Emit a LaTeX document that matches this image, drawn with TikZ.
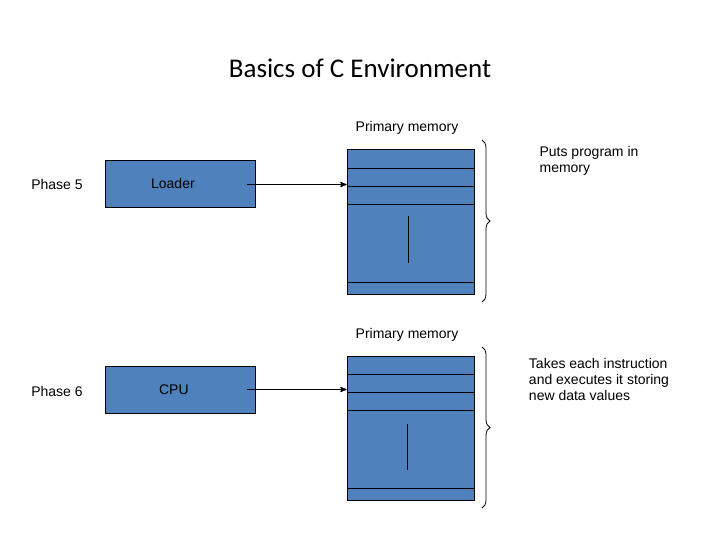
\documentclass[tikz,border=0pt]{standalone}
\usepackage{fontspec}
\setmainfont{Liberation Sans}
\newfontfamily\titlefont{Carlito}
\usetikzlibrary{positioning, arrows, decorations.pathreplacing}
\tikzset{
  box/.style = {draw=black, thick, fill=blue!45!cyan!40!black!0, fill={rgb,255:red,79;green,129;blue,189}, inner sep=0pt},
  lbl/.style = {font=\fontsize{14}{16}\selectfont},
  link/.style = {->, >=stealth', very thick}
}
\begin{document}
\begin{tikzpicture}[x=1pt, y=-1pt]
    \useasboundingbox (0,0) rectangle (720,540);
    \node[font=\titlefont\fontsize{27}{32}\selectfont] (title) at (360,68) {Basics of C Environment};
    % phase 5
    \node[lbl] (ph5) at (57,184) {Phase 5};
    \node[box, minimum width=150pt, minimum height=47pt] (loader) at (180,183.5) {};
    \node[lbl, anchor=west] at (loader.west) [xshift=43pt] {Loader};
    \node[box, minimum width=127pt, minimum height=145pt] (mem5) at (410.5,221.5) {};
    \foreach \y in {168,186,204,282} \draw[thick] (mem5.west |- 0,\y) -- (mem5.east |- 0,\y);
    \draw[thick] (408,216) -- (408,263);
    \node[lbl, anchor=south] (pm5) at (407,138) {Primary memory};
    \draw[link] (loader.east) ++(-8pt,-1pt) coordinate (a5) -- (mem5.west |- a5) coordinate (b5);
    \draw[thick, decorate, decoration={brace, amplitude=8pt}] (482,140) -- (482,302);
    \node[lbl, align=left] (txt5) at (589,161) {Puts program in\\memory};
    % phase 6
    \node[lbl] (ph6) at (57,391) {Phase 6};
    \node[box, minimum width=150pt, minimum height=47pt] (cpu) at (180,389.5) {};
    \node[lbl, anchor=west] at (cpu.west) [xshift=51pt] {CPU};
    \node[box, minimum width=127pt, minimum height=144pt] (mem6) at (410.5,428) {};
    \foreach \y in {374,392,410,488} \draw[thick] (mem6.west |- 0,\y) -- (mem6.east |- 0,\y);
    \draw[thick] (407,424) -- (407,470);
    \node[lbl, anchor=south] (pm6) at (407,345) {Primary memory};
    \draw[link] (cpu.east) ++(-8pt,0pt) coordinate (a6) -- (mem6.west |- a6) coordinate (b6);
    \draw[thick, decorate, decoration={brace, amplitude=8pt}] (482,347) -- (482,508);
    \node[lbl, align=left] (txt6) at (599,379) {Takes each instruction\\and executes it storing\\new data values};
\end{tikzpicture}
\end{document}
